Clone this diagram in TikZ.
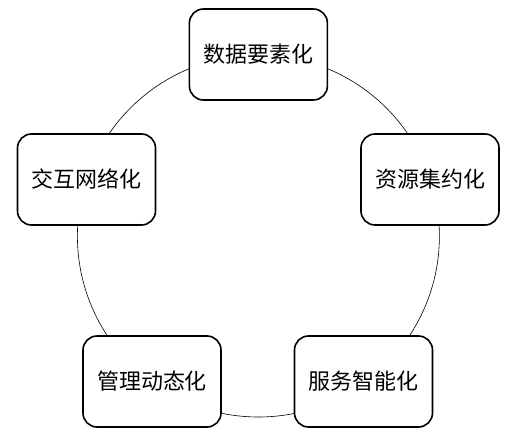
\documentclass[tikz,border=0pt]{standalone}
\usepackage{fontspec}
\newfontfamily\cjk{Noto Sans CJK SC}
\begin{document}
\begin{tikzpicture}[x=1pt,y=-1pt,
  stage/.style={draw=black, line width=1.6pt, rounded corners=14pt, fill=white,
    minimum width=138pt, minimum height=91pt, inner sep=0pt,
    font=\cjk\fontsize{22}{25}\selectfont}]
\useasboundingbox (0,0) rectangle (523,439);
\coordinate (c) at (258.4,236);
\draw[line width=0.6pt] (c) circle[radius=181pt];
\node[stage] (top) at (258.4,54.5) {数据要素化};
\node[stage] (right) at (430,179.5) {资源集约化};
\node[stage] (br) at (363.5,381.5) {服务智能化};
\node[stage] (bl) at (152,381.5) {管理动态化};
\node[stage] (left) at (86.5,179.5) {交互网络化};
\end{tikzpicture}
\end{document}
